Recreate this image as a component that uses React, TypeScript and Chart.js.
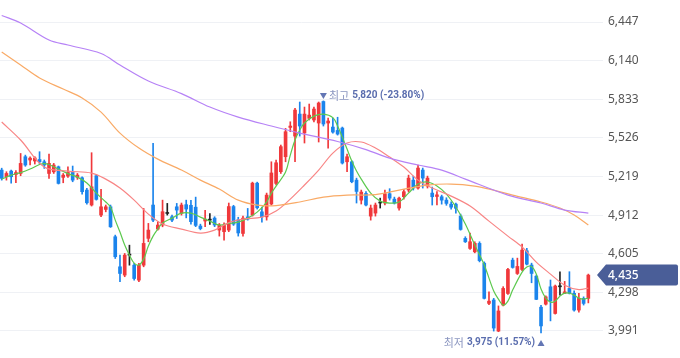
import { useEffect, useRef } from 'react';
import { Chart, registerables } from 'chart.js';

Chart.register(...registerables);

// ---- candle data (daily) ----
const opens = [
  5270, 5217, 5262, 5235, 5243, 5376, 5350, 5342, 5354, 5336,
  5243, 5256, 5296, 5212, 5222, 5251, 5212, 5209, 5111, 4992,
  5225, 4912, 4957, 4978, 4740, 4501, 4435, 4594, 4514, 4395,
  4514, 4727, 4992, 4801, 4833, 4925, 4899, 4978, 4926, 4995,
  4990, 4975, 4825, 4865, 4872, 4888, 4793, 4780, 4793, 4980,
  4875, 4766, 4898, 4912, 5166, 4938, 4898, 5000, 5164, 5257,
  5376, 5609, 5540, 5715, 5565, 5681, 5668, 5644, 5815, 5644,
  5612, 5585, 5604, 5336, 5336, 5190, 5031, 5084, 4904, 4928,
  5008, 5008, 5082, 5039, 4968, 5058, 5111, 5190, 5127, 5270,
  5143, 5087, 5060, 5058, 5031, 4999, 4999, 4904, 4727, 4647,
  4620, 4687, 4530, 4210, 4237, 3990, 4197, 4289, 4554, 4448,
  4480, 4628, 4515, 4426, 4180, 4204, 4342, 4130, 4342, 4290,
  4329, 4290, 4157, 4250, 4250,
];
const highs = [
  5285, 5257, 5270, 5265, 5402, 5389, 5376, 5376, 5416, 5350,
  5397, 5323, 5302, 5243, 5296, 5302, 5243, 5217, 5124, 5408,
  5230, 5116, 4992, 4992, 4753, 4594, 4607, 4673, 4528, 4528,
  4965, 4846, 5482, 4859, 5031, 5005, 4912, 5005, 5008, 5031,
  5030, 5055, 4840, 4950, 4925, 4899, 4845, 4850, 5008, 4990,
  4895, 4904, 4965, 5174, 5174, 4976, 5087, 5336, 5349, 5469,
  5601, 5654, 5760, 5811, 5771, 5795, 5771, 5811, 5820, 5684,
  5684, 5690, 5612, 5397, 5344, 5206, 5111, 5098, 4992, 5008,
  5047, 5111, 5122, 5055, 5055, 5116, 5230, 5222, 5310, 5286,
  5222, 5135, 5098, 5071, 5050, 5018, 5008, 4920, 4740, 4769,
  4700, 4700, 4540, 4302, 4250, 4190, 4343, 4488, 4570, 4570,
  4681, 4648, 4530, 4435, 4195, 4270, 4396, 4356, 4462, 4385,
  4462, 4310, 4290, 4262, 4443,
];
const lows = [
  5190, 5190, 5166, 5170, 5225, 5300, 5310, 5318, 5318, 5283,
  5204, 5243, 5159, 5169, 5212, 5177, 5196, 5079, 4999, 4984,
  5031, 4899, 4938, 4814, 4567, 4382, 4422, 4514, 4395, 4382,
  4501, 4700, 4859, 4793, 4819, 4912, 4860, 4885, 4912, 4890,
  4840, 4820, 4795, 4820, 4838, 4820, 4745, 4713, 4780, 4830,
  4745, 4745, 4872, 4904, 4960, 4856, 4872, 4992, 5151, 5243,
  5336, 5575, 5336, 5540, 5485, 5668, 5652, 5493, 5620, 5445,
  5564, 5548, 5318, 5257, 5169, 5008, 5000, 4984, 4872, 4904,
  4968, 4992, 5031, 5000, 4952, 5039, 5095, 5111, 5119, 5127,
  5127, 4992, 4992, 4999, 4990, 4960, 4928, 4792, 4694, 4640,
  4612, 4540, 4245, 4200, 3990, 3985, 4190, 4282, 4490, 4440,
  4470, 4515, 4374, 4240, 3975, 4197, 4071, 4125, 4276, 4288,
  4285, 4148, 4140, 4197, 4214,
];
const closes = [
  5204, 5243, 5217, 5250, 5323, 5310, 5365, 5366, 5336, 5310,
  5323, 5310, 5164, 5230, 5251, 5190, 5230, 5098, 5010, 5137,
  5037, 4978, 4978, 4819, 4581, 4448, 4594, 4594, 4408, 4514,
  4687, 4793, 4872, 4833, 4939, 4925, 4872, 4952, 4992, 4960,
  4860, 4830, 4805, 4880, 4872, 4833, 4833, 4830, 4980, 4840,
  4770, 4888, 4880, 5166, 4970, 4898, 5071, 5247, 5328, 5456,
  5575, 5620, 5747, 5620, 5715, 5707, 5755, 5803, 5636, 5660,
  5572, 5556, 5326, 5376, 5177, 5100, 5095, 4992, 4968, 4992,
  5008, 5082, 5047, 5008, 5047, 5098, 5206, 5127, 5286, 5206,
  5206, 5058, 5073, 5031, 5005, 4975, 4966, 4798, 4700, 4700,
  4687, 4550, 4250, 4228, 4014, 4150, 4329, 4480, 4496, 4504,
  4634, 4522, 4448, 4242, 4031, 4262, 4230, 4348, 4342, 4302,
  4290, 4157, 4250, 4210, 4435,
];

// ---- y axis tick labels ----
const yTicks = [3991, 4298, 4605, 4912, 5219, 5526, 5833, 6140, 6447];

// ---- moving averages (candle index, value) ----
const ma5Idx = [0, 2, 4, 6, 8, 9, 10, 12, 14, 16, 18, 20, 22, 23, 24, 25, 26, 27, 28, 29, 30, 31, 32, 33, 34, 36, 38, 40, 42, 44, 46, 48, 50, 52, 54, 56, 57, 58, 60, 61, 62, 63, 64, 66, 68, 70, 71, 72, 73, 74, 75, 76, 78, 80, 82, 84, 86, 88, 90, 92, 94, 96, 98, 100, 102, 104, 105, 106, 107, 108, 110, 111, 112, 113, 114, 115, 116, 117, 118, 119, 120, 121, 122, 123, 124];
const ma5Val = [5198, 5230, 5250, 5278, 5314, 5322, 5314, 5278, 5242, 5214, 5167, 5087, 5016, 4976, 4872, 4777, 4674, 4594, 4530, 4515, 4562, 4666, 4745, 4801, 4849, 4888, 4928, 4928, 4896, 4864, 4833, 4845, 4856, 4888, 4936, 5016, 5087, 5143, 5254, 5389, 5509, 5588, 5644, 5699, 5715, 5687, 5620, 5532, 5437, 5342, 5262, 5198, 5087, 5023, 5008, 5016, 5087, 5159, 5175, 5143, 5079, 4976, 4841, 4674, 4515, 4308, 4244, 4197, 4228, 4316, 4459, 4499, 4503, 4443, 4324, 4252, 4220, 4228, 4268, 4292, 4292, 4276, 4252, 4244, 4252];

const ma20Idx = [0, 4, 9, 14, 19, 22, 25, 28, 31, 34, 38, 42, 45, 48, 51, 55, 58, 61, 64, 67, 70, 73, 76, 79, 82, 85, 88, 91, 95, 99, 103, 107, 110, 113, 116, 119, 122, 124];
const ma20Val = [5652, 5509, 5294, 5262, 5246, 5198, 5127, 5031, 4920, 4841, 4801, 4769, 4793, 4852, 4880, 4896, 4944, 5039, 5151, 5270, 5405, 5485, 5493, 5445, 5373, 5294, 5190, 5127, 5063, 4984, 4864, 4745, 4658, 4538, 4443, 4355, 4320, 4332];

const ma60Idx = [0, 4, 8, 13, 17, 21, 25, 29, 33, 38, 42, 46, 50, 54, 58, 63, 68, 73, 79, 84, 90, 95, 100, 104, 108, 114, 118, 121, 124];
const ma60Val = [6208, 6105, 6002, 5914, 5843, 5731, 5564, 5445, 5357, 5270, 5190, 5119, 5031, 4992, 4988, 5016, 5055, 5071, 5075, 5111, 5151, 5159, 5143, 5111, 5071, 5016, 4968, 4912, 4833];

const ma120Idx = [0, 4, 10, 14, 21, 25, 31, 38, 44, 50, 57, 63, 71, 77, 82, 88, 93, 98, 107, 114, 119, 124];
const ma120Val = [6499, 6439, 6304, 6264, 6197, 6105, 5978, 5878, 5771, 5691, 5620, 5564, 5497, 5433, 5365, 5310, 5270, 5198, 5071, 5008, 4952, 4928];

const UP = '#f0383b';
const DOWN = '#1b84ec';
const FLAT = '#222222';
const FONT = "'Noto Sans', 'Noto Sans CJK KR', sans-serif";
const NFONT = "Roboto, 'Noto Sans', sans-serif";
const KFONT = "'Noto Sans CJK KR', 'Noto Sans', sans-serif";

const candleColor = (i: number) =>
  closes[i] > opens[i] ? UP : closes[i] < opens[i] ? DOWN : FLAT;

const fmt = (v: number) => Math.round(v).toLocaleString('en-US');

const toPts = (idx: number[], val: number[]) => idx.map((x, k) => ({ x, y: val[k] }));

const annotate = {
  id: 'annotate',
  afterDraw(chart: any) {
    const ctx = chart.ctx as CanvasRenderingContext2D;
    const xs = chart.scales.x;
    const ys = chart.scales.y;
    const last = closes[closes.length - 1];
    let maxI = 0;
    let minI = 0;
    highs.forEach((h, i) => { if (h > highs[maxI]) maxI = i; });
    lows.forEach((l, i) => { if (l < lows[minI]) minI = i; });
    const maxV = highs[maxI];
    const minV = lows[minI];
    ctx.save();

    // highest
    const hx = xs.getPixelForValue(maxI);
    const hy = ys.getPixelForValue(maxV);
    ctx.fillStyle = '#6376b4';
    ctx.beginPath();
    ctx.moveTo(hx - 3.5, hy - 8);
    ctx.lineTo(hx + 3.5, hy - 8);
    ctx.lineTo(hx, hy - 2);
    ctx.closePath();
    ctx.fill();
    ctx.textBaseline = 'middle';
    ctx.textAlign = 'left';
    ctx.font = `11px ${KFONT}`;
    ctx.fillStyle = '#8b96c0';
    const t1 = '최고';
    ctx.fillText(t1, hx + 5.5, hy - 5.5);
    const w1 = ctx.measureText(t1).width;
    ctx.font = `bold 10px ${NFONT}`;
    ctx.fillStyle = '#5a6dae';
    const pctH = ((last - maxV) / maxV) * 100;
    ctx.fillText(`${fmt(maxV)} (${pctH.toFixed(2)}%)`, hx + 5.5 + w1 + 3, hy - 5.5);

    // lowest
    const lx = xs.getPixelForValue(minI);
    const ly = ys.getPixelForValue(minV);
    ctx.fillStyle = '#6376b4';
    ctx.beginPath();
    ctx.moveTo(lx - 3.5, ly + 13);
    ctx.lineTo(lx + 3.5, ly + 13);
    ctx.lineTo(lx, ly + 7);
    ctx.closePath();
    ctx.fill();
    const pctL = ((last - minV) / minV) * 100;
    const t2 = `${fmt(minV)} (${pctL.toFixed(2)}%)`;
    ctx.font = `bold 10px ${NFONT}`;
    ctx.textAlign = 'right';
    ctx.fillStyle = '#5a6dae';
    ctx.fillText(t2, lx - 6, ly + 9.5);
    const w2 = ctx.measureText(t2).width;
    ctx.font = `11px ${KFONT}`;
    ctx.fillStyle = '#8b96c0';
    ctx.fillText('최저', lx - 6 - w2 - 3, ly + 9.5);

    // last price tag
    const py = ys.getPixelForValue(last);
    const left = chart.chartArea.right - 6;
    const right = chart.width - 2;
    ctx.fillStyle = '#4a5e98';
    ctx.beginPath();
    ctx.moveTo(left, py);
    ctx.lineTo(left + 9, py - 10.5);
    ctx.lineTo(right - 2, py - 10.5);
    ctx.quadraticCurveTo(right, py - 10.5, right, py - 8.5);
    ctx.lineTo(right, py + 8.5);
    ctx.quadraticCurveTo(right, py + 10.5, right - 2, py + 10.5);
    ctx.lineTo(left + 9, py + 10.5);
    ctx.closePath();
    ctx.fill();
    ctx.fillStyle = '#ffffff';
    ctx.textAlign = 'left';
    ctx.font = `500 12px ${FONT}`;
    ctx.fillText(fmt(last), chart.chartArea.right + 5, py + 0.5);
    ctx.restore();
  },
};

export default function App() {
  const ref = useRef<HTMLCanvasElement | null>(null);

  useEffect(() => {
    if (!ref.current) return;
    const colors = opens.map((_, i) => candleColor(i));
    const line = (idx: number[], val: number[], color: string, w = 1) => ({
      type: 'line' as const,
      data: toPts(idx, val),
      borderColor: color,
      borderWidth: w,
      pointRadius: 0,
      tension: 0.35,
      fill: false,
      order: 0,
    });
    const chart = new Chart(ref.current, {
      type: 'bar',
      data: {
        datasets: [
          line(ma120Idx, ma120Val, '#b682f6', 1.2) as any,
          line(ma60Idx, ma60Val, '#f9aa66', 1.2) as any,
          line(ma20Idx, ma20Val, '#f88585', 1.2) as any,
          line(ma5Idx, ma5Val, '#5cc94e', 1.2) as any,
          {
            type: 'bar',
            data: opens.map((_, i) => ({ x: i, y: [lows[i], highs[i]] })) as any,
            backgroundColor: colors,
            barThickness: 1,
            grouped: false,
            borderWidth: 0,
            order: 2,
          },
          {
            type: 'bar',
            data: opens.map((_, i) => ({ x: i, y: [opens[i], closes[i]] })) as any,
            backgroundColor: colors,
            barThickness: 3,
            minBarLength: 1,
            grouped: false,
            borderWidth: 0,
            order: 1,
          },
        ],
      },
      options: {
        animation: false,
        responsive: false,
        devicePixelRatio: 1,
        layout: { padding: 0 },
        plugins: { legend: { display: false }, tooltip: { enabled: false } },
        scales: {
          x: {
            type: 'linear',
            display: false,
            min: -0.36,
            max: 127.1,
            offset: false,
            grid: { display: false },
          },
          y: {
            position: 'right',
            min: 3776,
            max: 6622,
            afterBuildTicks: (s: any) => {
              s.ticks = yTicks.map((v) => ({ value: v }));
            },
            afterFit: (s: any) => {
              s.width = 77;
              s.paddingTop = 0;
              s.paddingBottom = 0;
            },
            ticks: {
              padding: 5,
              color: '#555555',
              font: { size: 12, family: FONT },
              callback: (v: any) => fmt(Number(v)),
            },
            grid: { color: '#eff1f5', drawTicks: false, lineWidth: 1 },
            border: { display: false },
          },
        },
      },
      plugins: [annotate],
    });
    return () => chart.destroy();
  }, []);

  return (
    <div style={{ position: 'fixed', left: 0, top: 0, width: 680, height: 358, background: '#fff' }}>
      <canvas ref={ref} width={680} height={358} />
    </div>
  );
}
